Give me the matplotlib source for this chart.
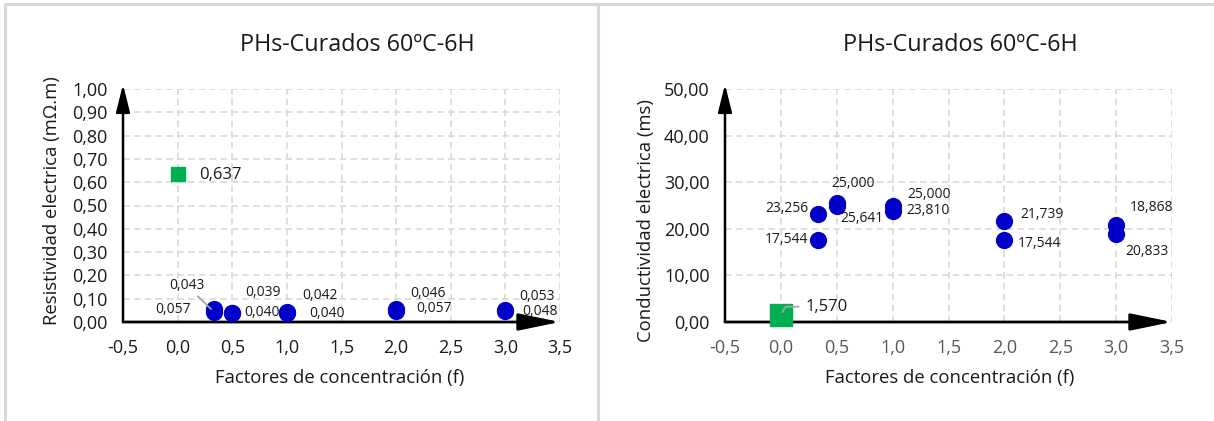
import matplotlib
matplotlib.use("Agg")
import matplotlib.pyplot as plt
from matplotlib.lines import Line2D

plt.rcParams['font.family'] = ['Open Sans', 'DejaVu Sans']

# datos
f_blue = [1/3, 1/3, 0.5, 0.5, 1.0, 1.0, 2.0, 2.0, 3.0, 3.0]
resist_blue = [0.043, 0.057, 0.039, 0.040, 0.042, 0.040, 0.046, 0.057, 0.053, 0.048]
resist_labels = ['0,043', '0,057', '0,039', '0,040', '0,042', '0,040', '0,046', '0,057', '0,053', '0,048']
f_green = [0.0]
resist_green = [0.637]
resist_green_labels = ['0,637']

conduct_blue = [23.256, 17.544, 25.641, 25.000, 23.810, 25.000, 21.739, 17.544, 20.833, 18.868]
conduct_labels = ['23,256', '17,544', '25,000', '25,641', '25,000', '23,810', '21,739', '17,544', '18,868', '20,833']
conduct_green = [1.570]
conduct_green_labels = ['1,570']

x_ticks = [-0.5, 0.0, 0.5, 1.0, 1.5, 2.0, 2.5, 3.0, 3.5]
y_ticks_left = [0.0, 0.1, 0.2, 0.3, 0.4, 0.5, 0.6, 0.7, 0.8, 0.9, 1.0]
y_ticks_right = [0, 10, 20, 30, 40, 50]

# desplazamientos de las etiquetas (pixeles)
off_left = [(-27, 26), (-41, -1), (31, 20), (30, 0), (33, 17), (40, -1), (32, 18), (38, 0), (32, 13), (35, -1)]
off_right = [(-31, 5), (-32, 1), (16, 19), (25, -13), (36, 17), (35, -5), (38, 6), (35, -3), (35, 17), (31, -17)]

BLUE = '#0000C8'
GREEN = '#00B050'
GRID = '#d9d9d9'
TXT = '#1a1a1a'

fig = plt.figure(figsize=(12.14, 4.21), dpi=100)
W, H = 1214, 421

# marcos de los paneles
for xs, ys in [([5, 5], [4, 421]), ([5, 1214], [4, 4]), ([598, 598], [4, 421])]:
    fig.add_artist(Line2D([x / W for x in xs], [1 - y / H for y in ys], color='#d9d9d9', lw=2.2))


def fmt(v, nd):
    return f"{v:.{nd}f}".replace('.', ',')


def make_axes(rect, yticks, ynd, xtick_color):
    ax = fig.add_axes(rect)
    ax.set_xlim(-0.5, 3.5)
    ax.set_ylim(yticks[0], yticks[-1])
    ax.set_xticks(x_ticks)
    ax.set_xticklabels([fmt(v, 1) for v in x_ticks])
    ax.set_yticks(yticks)
    ax.set_yticklabels([fmt(v, ynd) for v in yticks])
    ax.tick_params(length=0, labelsize=13)
    ax.tick_params(axis='x', colors=xtick_color, pad=12)
    ax.tick_params(axis='y', colors=TXT, pad=11)
    for s in ax.spines.values():
        s.set_visible(False)
    ax.grid(True, color=GRID, ls=(0, (4, 2.5)), lw=1.2)
    ax.set_axisbelow(True)
    # ejes con flecha
    ax.annotate('', xy=(3.5, 0), xytext=(-0.5, 0), annotation_clip=False,
                arrowprops=dict(arrowstyle='-|>,head_length=1.7,head_width=0.35',
                                color='black', lw=2, mutation_scale=15, shrinkA=0, shrinkB=0))
    ax.annotate('', xy=(-0.5, yticks[-1] * 1.02), xytext=(-0.5, 0), annotation_clip=False,
                arrowprops=dict(arrowstyle='-|>,head_length=1.2,head_width=0.3',
                                color='black', lw=1.8, mutation_scale=14, shrinkA=0, shrinkB=0))
    return ax


# ---- panel izquierdo: resistividad
ax1 = make_axes([123 / W, 1 - 322 / H, 437 / W, 233 / H], y_ticks_left, 2, '#1a1a1a')
ax1.scatter(f_blue, resist_blue, s=130, color=BLUE, zorder=3, clip_on=False)
ax1.scatter(f_green, resist_green, s=110, marker='s', color=GREEN, zorder=3, clip_on=False)
for i, (x, y, lab) in enumerate(zip(f_blue, resist_blue, resist_labels)):
    props = None
    if i == 0:
        props = dict(arrowstyle='-', color='#a6a6a6', lw=1.3, shrinkA=0, shrinkB=3)
    ax1.annotate(lab, (x, y), xytext=off_left[i], textcoords='offset pixels',
                 ha='center', va='center', fontsize=10, color=TXT, arrowprops=props, zorder=4)
ax1.annotate(resist_green_labels[0], (f_green[0], resist_green[0]), xytext=(43, -1),
             textcoords='offset pixels', ha='center', va='center', fontsize=12, color=TXT)

fig.text(357 / W, 1 - 45 / H, 'PHs-Curados 60ºC-6H', ha='center', va='center', fontsize=16.8, color=TXT)
fig.text(340 / W, 1 - 378 / H, 'Factores de concentración (f)', ha='center', va='center', fontsize=13.3, color=TXT)
fig.text(52 / W, 1 - 201 / H, 'Resistividad electrica (mΩ.m)', ha='center', va='center',
         rotation=90, fontsize=13.3, color=TXT)

# ---- panel derecho: conductividad
ax2 = make_axes([725 / W, 1 - 322 / H, 447 / W, 233 / H], y_ticks_right, 2, '#595959')
ax2.scatter(f_blue, conduct_blue, s=130, color=BLUE, zorder=3, clip_on=False)
ax2.scatter(f_green, conduct_green, s=230, marker='s', color=GREEN, zorder=3, clip_on=False)
for i, (x, y, lab) in enumerate(zip(f_blue, conduct_blue, conduct_labels)):
    ax2.annotate(lab, (x, y), xytext=off_right[i], textcoords='offset pixels',
                 ha='center', va='center', fontsize=10, color=TXT, zorder=4)
ax2.annotate(conduct_green_labels[0], (f_green[0], conduct_green[0]), xytext=(46, 8),
             textcoords='offset pixels', ha='center', va='center', fontsize=12, color=TXT,
             arrowprops=dict(arrowstyle='-', color='#a6a6a6', lw=1.3, shrinkA=3, shrinkB=2,
                             connectionstyle='angle,angleA=0,angleB=60,rad=2'))

fig.text(960 / W, 1 - 45 / H, 'PHs-Curados 60ºC-6H', ha='center', va='center', fontsize=16.8, color=TXT)
fig.text(950 / W, 1 - 378 / H, 'Factores de concentración (f)', ha='center', va='center', fontsize=13.3, color=TXT)
fig.text(646 / W, 1 - 221 / H, 'Conductividad electrica (ms)', ha='center', va='center',
         rotation=90, fontsize=13.3, color=TXT)

fig.savefig('out.png', dpi=100)
